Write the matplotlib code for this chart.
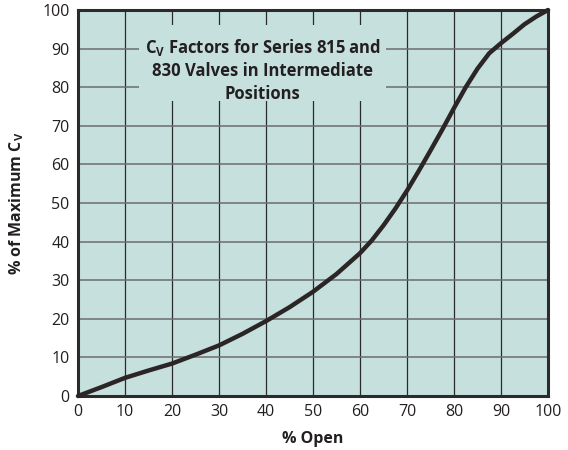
import matplotlib
matplotlib.use("Agg")
import matplotlib.pyplot as plt
from matplotlib.patches import Rectangle

plt.rcParams['font.family'] = ['Open Sans', 'DejaVu Sans']
plt.rcParams['mathtext.fontset'] = 'custom'
plt.rcParams['mathtext.rm'] = 'Open Sans'
plt.rcParams['mathtext.bf'] = 'Open Sans:bold'

pct_open = [0, 5, 10, 15, 20, 25, 30, 35, 40, 45, 50, 55, 60, 62.5, 65, 67.5, 70, 72.5, 75, 77.5, 80, 82.5, 85, 87.5, 90, 92.5, 95, 97.5, 100]
pct_cv = [0, 2.3, 4.7, 6.6, 8.4, 10.7, 13.1, 16.1, 19.4, 23.0, 27.0, 31.6, 37.0, 40.3, 44.2, 48.5, 53.2, 58.3, 63.6, 69.0, 74.6, 80.0, 84.8, 88.8, 91.4, 93.8, 96.3, 98.3, 100.0]
x_ticks = [0, 10, 20, 30, 40, 50, 60, 70, 80, 90, 100]
y_ticks = [0, 10, 20, 30, 40, 50, 60, 70, 80, 90, 100]
title_lines = [r"$\mathbf{C_V}$ Factors for Series 815 and", "830 Valves in Intermediate", "Positions"]

fig = plt.figure(figsize=(5.68, 4.5), dpi=100)
ax = fig.add_axes([0.1373, 0.12, 0.8275, 0.8578])
ax.set_facecolor('#c6e0de')
ax.set_xlim(0, 100)
ax.set_ylim(0, 100)
ax.set_xticks(x_ticks)
ax.set_yticks(y_ticks)
ax.tick_params(length=0, labelsize=11.5, colors='#231f20', pad=6)
for v in x_ticks[1:-1]:
    ax.axvline(v, color='#2a2a2a', lw=0.9, zorder=1)
for v in y_ticks[1:-1]:
    ax.axhline(v, color='#6d6d6d', lw=1.1, zorder=1)
for s in ax.spines.values():
    s.set_linewidth(2.2)
    s.set_color('#2b2b2b')

# title box masking grid
ax.add_patch(Rectangle((13.0, 76.5), 52.6, 19.5, facecolor='#c6e0de', edgecolor='none', zorder=2))
ax.text(39.3, 90.3, title_lines[0], ha='center', va='center', fontsize=12, fontweight='bold', color='#231f20', zorder=3)
ax.text(39.3, 84.2, title_lines[1], ha='center', va='center', fontsize=12, fontweight='bold', color='#231f20', zorder=3)
ax.text(39.3, 78.2, title_lines[2], ha='center', va='center', fontsize=12, fontweight='bold', color='#231f20', zorder=3)

ax.plot(pct_open, pct_cv, color='#2b2526', lw=3.2, zorder=4, solid_capstyle='round', solid_joinstyle='round', clip_on=False)

ax.set_xlabel('% Open', fontsize=11.5, fontweight='bold', color='#231f20', labelpad=8)
ax.set_ylabel(r'% of Maximum $\mathbf{C_V}$', fontsize=11.5, fontweight='bold', color='#231f20', labelpad=12)

fig.savefig('out.png', dpi=100)
